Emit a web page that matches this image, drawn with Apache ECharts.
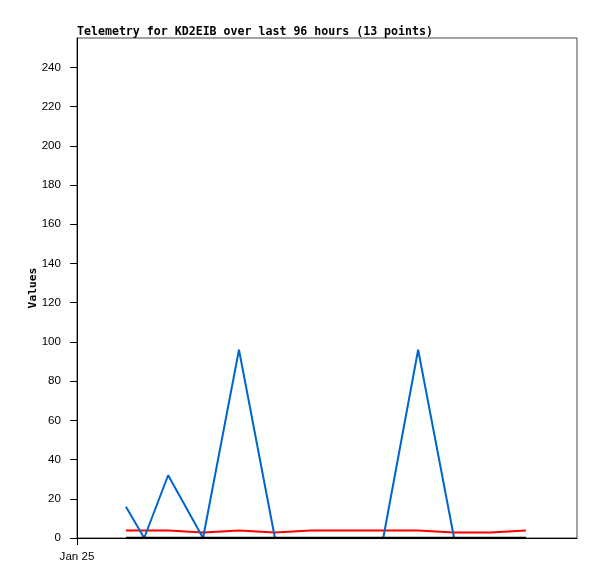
<!DOCTYPE html>
<html>
<head>
<meta charset="utf-8">
<script src="https://cdn.jsdelivr.net/npm/echarts@6/dist/echarts.min.js"></script>
<style>html,body{margin:0;padding:0;background:#fff;}#c{width:597px;height:579px;}</style>
</head>
<body>
<div id="c"></div>
<script>
// hours since Jan 25 00:00
var hours = [9.4, 12.9, 17.5, 24.2, 31.1, 38.0, 44.9, 51.8, 58.8, 65.5, 72.4, 79.3, 86.2];
var blueValues = [16, 0, 32, 0, 96, 0, 0, 0, 0, 96, 0, 0, 0];
var redValues = [3.8, 3.8, 3.8, 2.8, 3.8, 2.8, 3.8, 3.8, 3.8, 3.8, 2.8, 2.8, 3.8];
var blackValues = [0, 0, 0, 0, 0, 0, 0, 0, 0, 0, 0, 0, 0];
var yTicks = [0, 20, 40, 60, 80, 100, 120, 140, 160, 180, 200, 220, 240];
var xLabel = 'Jan 25';
var titleText = 'Telemetry for KD2EIB over last 96 hours (13 points)';

function pairs(vals){ return hours.map(function(h,i){ return [h, vals[i]]; }); }

var chart = echarts.init(document.getElementById('c'), null, {renderer:'canvas'});
chart.setOption({
  animation: false,
  backgroundColor: '#fff',
  title: {
    text: titleText,
    left: 77, top: 26, padding: 0,
    textStyle: {fontFamily: 'DejaVu Sans Mono', fontWeight: 'bold', fontSize: 11.6, color: '#000'}
  },
  grid: {left: 77, right: 20, top: 38, bottom: 41, show: true, borderColor: '#444', borderWidth: 1, backgroundColor: 'transparent'},
  xAxis: {
    type: 'value', min: 0, max: 96,
    axisLine: {show: true, lineStyle: {color: '#000', width: 1}},
    axisTick: {show: true, length: 7, lineStyle: {color: '#000'}, customValues: [0]},
    axisLabel: {customValues: [0], formatter: function(){ return xLabel; }, margin: 13, color: '#000', fontFamily: 'Liberation Sans', fontSize: 11.6},
    splitLine: {show: false}
  },
  yAxis: {
    type: 'value', min: 0, max: 255,
    name: 'Values', nameLocation: 'middle', nameGap: 38, nameRotate: 90, nameMoveOverlap: false,
    nameTextStyle: {fontFamily: 'DejaVu Sans Mono', fontWeight: 'bold', fontSize: 11.3, color: '#000'},
    axisLine: {show: true, lineStyle: {color: '#000', width: 1}},
    axisTick: {show: true, length: 7, lineStyle: {color: '#000'}, customValues: yTicks},
    axisLabel: {customValues: yTicks, margin: 16, color: '#000', fontFamily: 'Liberation Sans', fontSize: 11.6},
    splitLine: {show: false}
  },
  series: [
    {type: 'line', data: pairs(redValues), symbol: 'none', lineStyle: {color: '#ff0000', width: 2}, z: 2},
    {type: 'line', data: pairs(blueValues), symbol: 'none', lineStyle: {color: '#0066cc', width: 2}, z: 3},
    {type: 'line', data: pairs(blackValues), symbol: 'none', lineStyle: {color: '#000', width: 2.5}, z: 4}
  ]
});
</script>
</body>
</html>
